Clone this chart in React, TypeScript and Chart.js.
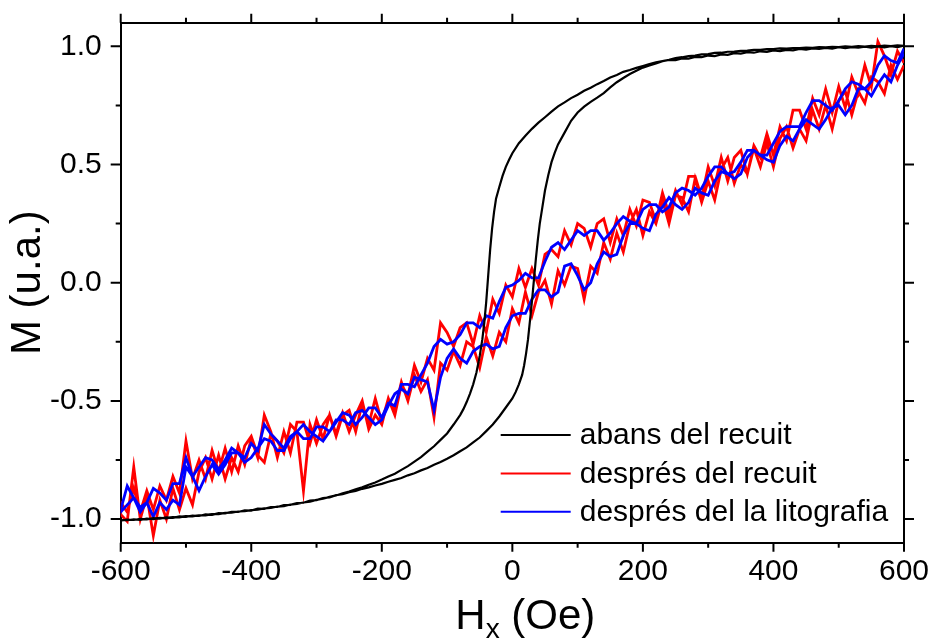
import React, { useEffect, useRef } from "react";
import { Chart, registerables } from "chart.js";

Chart.register(...registerables);

const FONT = '"Liberation Sans", Arial, Helvetica, sans-serif';

const X_TICKS = [-600, -400, -200, 0, 200, 400, 600];
const X_MINOR = [-500, -300, -100, 100, 300, 500];
const Y_TICKS = [-1.0, -0.5, 0.0, 0.5, 1.0];
const Y_MINOR = [-0.75, -0.25, 0.25, 0.75];
const X_MIN = -600;
const X_MAX = 600;
const Y_MIN = -1.1;
const Y_MAX = 1.1;

const Y_TITLE = "M (u.a.)";
const X_TITLE_MAIN = "H";
const X_TITLE_SUB = "x";
const X_TITLE_REST = " (Oe)";

const SERIES_LABELS = ["abans del recuit", "després del recuit", "després del la litografia"];
const SERIES_COLORS = ["#000000", "#ff0000", "#0000ff"];

// field grid for the two thin-film curves (Oe)
const HX = [
  -600, -590, -580, -570, -560, -550, -540, -530, -520, -510,
  -500, -490, -480, -470, -460, -450, -440, -430, -420, -410,
  -400, -390, -380, -370, -360, -350, -340, -330, -320, -310,
  -300, -290, -280, -270, -260, -250, -240, -230, -220, -210,
  -200, -190, -180, -170, -160, -150, -140, -130, -120, -110,
  -100, -90, -80, -70, -60, -50, -40, -30, -20, -10,
  0, 10, 20, 30, 40, 50, 60, 70, 80, 90,
  100, 110, 120, 130, 140, 150, 160, 170, 180, 190,
  200, 210, 220, 230, 240, 250, 260, 270, 280, 290,
  300, 310, 320, 330, 340, 350, 360, 370, 380, 390,
  400, 410, 420, 430, 440, 450, 460, 470, 480, 490,
  500, 510, 520, 530, 540, 550, 560, 570, 580, 590,
  600,
];

// "després del recuit" — increasing field branch (HX order)
const RED_UP = [
  -0.98, -1.01, -0.78, -1.0, -0.9, -1.07, -0.92, -1.0, -0.87, -0.96,
  -0.87, -0.94, -0.8, -0.74, -0.83, -0.73, -0.83, -0.74, -0.8, -0.69,
  -0.65, -0.73, -0.76, -0.64, -0.67, -0.72, -0.6, -0.63, -0.88, -0.6,
  -0.68, -0.6, -0.56, -0.64, -0.55, -0.63, -0.56, -0.5, -0.62, -0.56,
  -0.6, -0.49, -0.54, -0.42, -0.5, -0.39, -0.46, -0.41, -0.57, -0.34,
  -0.37, -0.29, -0.35, -0.25, -0.27, -0.36, -0.23, -0.31, -0.21, -0.25,
  -0.11, -0.17, -0.04, -0.14, -0.04, 0.01, -0.09, 0.05, -0.01, 0.07,
  0.06, -0.07, 0.07, 0.04, 0.17, 0.1, 0.21, 0.13, 0.25, 0.31,
  0.2, 0.3, 0.25, 0.35, 0.25, 0.37, 0.36, 0.3, 0.44, 0.34,
  0.43, 0.35, 0.48, 0.53, 0.42, 0.5, 0.46, 0.57, 0.49, 0.59,
  0.49, 0.61, 0.66, 0.57, 0.65, 0.6, 0.73, 0.65, 0.75, 0.65,
  0.77, 0.81, 0.71, 0.81, 0.76, 0.87, 0.85, 0.8, 0.92, 0.86,
  0.92,
];

// "després del recuit" — decreasing field branch (from +600 down to -600)
const RED_DOWN = [
  0.93, 0.98, 0.88, 0.96, 1.02, 0.83, 0.92, 0.8, 0.87, 0.74,
  0.83, 0.72, 0.82, 0.71, 0.78, 0.65, 0.73, 0.73, 0.6, 0.66,
  0.54, 0.63, 0.53, 0.58, 0.46, 0.56, 0.53, 0.43, 0.53, 0.41,
  0.49, 0.36, 0.45, 0.45, 0.33, 0.39, 0.29, 0.38, 0.26, 0.34,
  0.35, 0.24, 0.31, 0.2, 0.27, 0.17, 0.27, 0.25, 0.15, 0.23,
  0.25, 0.16, 0.22, 0.11, 0.14, 0.12, -0.01, 0.06, -0.02, 0.06,
  -0.06, -0.01, -0.13, -0.07, -0.21, -0.14, -0.26, -0.17, -0.19, -0.27,
  -0.21, -0.17, -0.37, -0.32, -0.42, -0.35, -0.48, -0.43, -0.56, -0.49,
  -0.59, -0.49, -0.6, -0.51, -0.63, -0.54, -0.56, -0.65, -0.56, -0.66,
  -0.58, -0.68, -0.59, -0.59, -0.72, -0.63, -0.74, -0.63, -0.56, -0.74,
  -0.66, -0.77, -0.69, -0.8, -0.7, -0.8, -0.71, -0.83, -0.75, -0.83,
  -0.67, -0.89, -0.82, -0.92, -0.86, -0.96, -0.88, -0.97, -0.87, -0.97,
  -0.93,
];

// "després del la litografia" — increasing field branch (HX order)
const BLUE_UP = [
  -0.96, -0.86, -0.91, -0.97, -0.93, -0.99, -0.93, -0.96, -0.92, -0.94,
  -0.78, -0.82, -0.88, -0.82, -0.77, -0.81, -0.77, -0.72, -0.72, -0.76,
  -0.74, -0.7, -0.66, -0.67, -0.71, -0.71, -0.66, -0.63, -0.6, -0.63,
  -0.65, -0.67, -0.63, -0.58, -0.58, -0.6, -0.55, -0.54, -0.57, -0.6,
  -0.58, -0.52, -0.47, -0.45, -0.47, -0.4, -0.41, -0.42, -0.54, -0.4,
  -0.32, -0.28, -0.32, -0.34, -0.29, -0.27, -0.26, -0.28, -0.27, -0.19,
  -0.14, -0.13, -0.13, -0.07, -0.03, -0.03, -0.06, -0.04, 0.07, 0.08,
  0.03, -0.03, 0.0, 0.08, 0.13, 0.11, 0.12, 0.2, 0.25, 0.25,
  0.23, 0.22, 0.29, 0.32, 0.36, 0.33, 0.31, 0.34, 0.4, 0.38,
  0.37, 0.43, 0.47, 0.46, 0.44, 0.46, 0.53, 0.56, 0.54, 0.52,
  0.51, 0.58, 0.62, 0.6, 0.65, 0.69, 0.67, 0.65, 0.69, 0.74,
  0.75, 0.71, 0.75, 0.82, 0.82, 0.79, 0.84, 0.88, 0.85, 0.92,
  0.97,
];

// "després del la litografia" — decreasing field branch (from +600 down to -600)
const BLUE_DOWN = [
  0.99, 0.93, 0.94, 0.96, 0.92, 0.85, 0.82, 0.84, 0.85, 0.82,
  0.77, 0.73, 0.75, 0.77, 0.77, 0.72, 0.66, 0.66, 0.66, 0.64,
  0.59, 0.54, 0.54, 0.56, 0.56, 0.51, 0.47, 0.46, 0.49, 0.49,
  0.45, 0.4, 0.37, 0.39, 0.4, 0.38, 0.32, 0.3, 0.33, 0.33,
  0.31, 0.25, 0.26, 0.28, 0.25, 0.21, 0.18, 0.22, 0.22, 0.2,
  0.22, 0.18, 0.14, 0.17, 0.15, 0.09, 0.02, 0.02, 0.04, 0.01,
  -0.01, -0.02, -0.08, -0.15, -0.14, -0.19, -0.17, -0.17, -0.22, -0.25,
  -0.26, -0.24, -0.27, -0.34, -0.39, -0.44, -0.43, -0.43, -0.52, -0.51,
  -0.57, -0.53, -0.53, -0.57, -0.6, -0.56, -0.55, -0.59, -0.63, -0.61,
  -0.61, -0.66, -0.66, -0.63, -0.65, -0.7, -0.67, -0.64, -0.6, -0.71,
  -0.68, -0.74, -0.72, -0.7, -0.75, -0.79, -0.75, -0.74, -0.78, -0.82,
  -0.74, -0.85, -0.85, -0.92, -0.89, -0.87, -0.93, -0.95, -0.91, -0.94,
  -0.97,
];

// "abans del recuit" — decreasing field branch
const BLACK_DOWN_X = [
  600, 590, 580, 570, 560, 550, 540, 530, 520, 510,
  500, 490, 480, 470, 460, 450, 440, 430, 420, 410,
  400, 390, 380, 370, 360, 350, 340, 330, 320, 310,
  300, 290, 280, 270, 260, 250, 240, 230, 220, 210,
  200, 190, 180, 170, 160, 150, 140, 130, 120, 110,
  100, 90, 80, 70, 60, 50, 40, 30, 20, 10,
  0, -5, -10, -15, -20, -25, -28, -31, -34, -37,
  -40, -43, -46, -50, -55, -60, -65, -70, -75, -80,
  -90, -100, -110, -120, -130, -140, -150, -160, -170, -180,
  -190, -200, -210, -220, -230, -240, -250, -260, -270, -280,
  -290, -300, -310, -320, -330, -340, -350, -360, -370, -380,
  -390, -400, -410, -420, -430, -440, -450, -460, -470, -480,
  -490, -500, -510, -520, -530, -540, -550, -560, -570, -580,
  -590, -600,
];
const BLACK_DOWN_Y = [
  1.003, 0.997, 1.001, 0.996, 1.0, 0.995, 0.999, 0.994, 0.997, 0.992,
  0.996, 0.99, 0.993, 0.989, 0.991, 0.986, 0.989, 0.983, 0.985, 0.98,
  0.983, 0.977, 0.979, 0.973, 0.975, 0.969, 0.971, 0.964, 0.966, 0.959,
  0.961, 0.954, 0.955, 0.948, 0.949, 0.942, 0.943, 0.938, 0.932, 0.925,
  0.917, 0.909, 0.9, 0.892, 0.879, 0.868, 0.853, 0.84, 0.825, 0.812,
  0.795, 0.781, 0.763, 0.746, 0.724, 0.7, 0.677, 0.651, 0.622, 0.59,
  0.548, 0.52, 0.49, 0.452, 0.405, 0.355, 0.3, 0.23, 0.14, 0.03,
  -0.08, -0.17, -0.24, -0.31, -0.38, -0.43, -0.47, -0.505, -0.535, -0.56,
  -0.6, -0.638, -0.665, -0.692, -0.715, -0.738, -0.757, -0.776, -0.792, -0.808,
  -0.82, -0.833, -0.845, -0.855, -0.866, -0.874, -0.884, -0.891, -0.9, -0.906,
  -0.914, -0.919, -0.926, -0.93, -0.936, -0.939, -0.945, -0.947, -0.953, -0.955,
  -0.96, -0.962, -0.967, -0.968, -0.973, -0.974, -0.979, -0.979, -0.984, -0.984,
  -0.989, -0.988, -0.993, -0.992, -0.997, -0.995, -1.0, -0.998, -1.003, -1.001,
  -1.005, -1.004,
];

// "abans del recuit" — increasing field branch
const BLACK_UP_X = [
  -600, -590, -580, -570, -560, -550, -540, -530, -520, -510,
  -500, -490, -480, -470, -460, -450, -440, -430, -420, -410,
  -400, -390, -380, -370, -360, -350, -340, -330, -320, -310,
  -300, -290, -280, -270, -260, -250, -240, -230, -220, -210,
  -200, -190, -180, -170, -160, -150, -140, -130, -120, -110,
  -100, -90, -80, -70, -60, -50, -40, -30, -20, -10,
  0, 5, 10, 15, 18, 21, 24, 27, 30, 33,
  36, 39, 42, 46, 50, 55, 60, 65, 70,
  80, 90, 100, 110, 120, 130, 140, 150, 160, 170,
  180, 190, 200, 210, 220, 230, 240, 250, 260, 270,
  280, 290, 300, 310, 320, 330, 340, 350, 360, 370,
  380, 390, 400, 410, 420, 430, 440, 450, 460, 470,
  480, 490, 500, 510, 520, 530, 540, 550, 560, 570,
  580, 590, 600,
];
const BLACK_UP_Y = [
  -1.006, -1.002, -1.004, -0.999, -1.001, -0.996, -0.998, -0.993, -0.995, -0.989,
  -0.991, -0.985, -0.987, -0.98, -0.982, -0.975, -0.976, -0.969, -0.97, -0.963,
  -0.964, -0.956, -0.957, -0.949, -0.949, -0.941, -0.94, -0.932, -0.931, -0.922,
  -0.92, -0.911, -0.908, -0.899, -0.895, -0.886, -0.881, -0.872, -0.866, -0.858,
  -0.851, -0.842, -0.834, -0.826, -0.815, -0.806, -0.794, -0.784, -0.77, -0.759,
  -0.745, -0.73, -0.713, -0.697, -0.676, -0.655, -0.628, -0.6, -0.566, -0.528,
  -0.49, -0.463, -0.43, -0.39, -0.35, -0.3, -0.24, -0.16, -0.08, 0.01,
  0.1, 0.18, 0.25, 0.32, 0.39, 0.455, 0.51, 0.55, 0.585,
  0.635, 0.685, 0.72, 0.745, 0.765, 0.783, 0.802, 0.826, 0.848, 0.866,
  0.883, 0.897, 0.91, 0.919, 0.928, 0.937, 0.943, 0.95, 0.954, 0.959,
  0.961, 0.966, 0.967, 0.972, 0.973, 0.977, 0.978, 0.981, 0.982, 0.985,
  0.985, 0.988, 0.988, 0.991, 0.99, 0.993, 0.993, 0.995, 0.994, 0.997,
  0.996, 0.998, 0.997, 1.0, 0.998, 1.001, 0.999, 1.002, 1.0, 1.003,
  1.001, 1.004, 1.002,
];

function loop(downX: number[], downY: number[], upX: number[], upY: number[]) {
  const pts: { x: number; y: number }[] = [];
  downX.forEach((x, i) => pts.push({ x, y: downY[i] }));
  upX.forEach((x, i) => pts.push({ x, y: upY[i] }));
  return pts;
}

const fmtNum = (v: number, digits: number) => {
  const s = Number(v).toFixed(digits);
  return s === "-0.0" ? "0.0" : s;
};

const decorPlugin = {
  id: "decor",
  afterDraw(chart: any) {
    const { ctx, chartArea: a, scales } = chart;
    const xs = scales.x;
    const ys = scales.y;
    ctx.save();
    ctx.strokeStyle = "#000";
    ctx.lineWidth = 2;
    ctx.lineCap = "butt";
    ctx.beginPath();
    const xTick = (v: number, len: number) => {
      const p = xs.getPixelForValue(v);
      ctx.moveTo(p, a.bottom);
      ctx.lineTo(p, a.bottom + len);
      ctx.moveTo(p, a.top);
      ctx.lineTo(p, a.top - len);
    };
    const yTick = (v: number, len: number) => {
      const p = ys.getPixelForValue(v);
      ctx.moveTo(a.left, p);
      ctx.lineTo(a.left - len, p);
      ctx.moveTo(a.right, p);
      ctx.lineTo(a.right + len, p);
    };
    X_TICKS.forEach((v) => xTick(v, 9));
    X_MINOR.forEach((v) => xTick(v, 5));
    Y_TICKS.forEach((v) => yTick(v, 10));
    Y_MINOR.forEach((v) => yTick(v, 5));
    ctx.stroke();

    ctx.fillStyle = "#000";
    // y title
    ctx.save();
    ctx.font = `42px ${FONT}`;
    ctx.translate(28, (a.top + a.bottom) / 2);
    ctx.rotate(-Math.PI / 2);
    ctx.textAlign = "center";
    ctx.textBaseline = "middle";
    ctx.fillText(Y_TITLE, 0, 0);
    ctx.restore();

    // x title with subscript
    ctx.textAlign = "left";
    ctx.textBaseline = "alphabetic";
    const mainFont = `42px ${FONT}`;
    const subFont = `28px ${FONT}`;
    ctx.font = mainFont;
    const wMain = ctx.measureText(X_TITLE_MAIN).width;
    const wRest = ctx.measureText(X_TITLE_REST).width;
    ctx.font = subFont;
    const wSub = ctx.measureText(X_TITLE_SUB).width;
    const total = wMain + wSub + wRest;
    let tx = (a.left + a.right) / 2 + 13 - total / 2;
    const by = a.bottom + 86;
    ctx.font = mainFont;
    ctx.fillText(X_TITLE_MAIN, tx, by);
    tx += wMain;
    ctx.font = subFont;
    ctx.fillText(X_TITLE_SUB, tx, by + 9);
    tx += wSub;
    ctx.font = mainFont;
    ctx.fillText(X_TITLE_REST, tx, by);

    // legend inside plot, lower right
    const ds = chart.data.datasets;
    const x0 = a.left + 380;
    const x1 = a.left + 450;
    const textX = a.left + 459;
    ctx.font = `30px ${FONT}`;
    ctx.textBaseline = "middle";
    ds.forEach((d: any, i: number) => {
      const yy = a.bottom - 31 - (ds.length - 1 - i) * 38.3;
      ctx.strokeStyle = d.borderColor;
      ctx.lineWidth = 2;
      ctx.beginPath();
      ctx.moveTo(x0, yy);
      ctx.lineTo(x1, yy);
      ctx.stroke();
      ctx.fillStyle = "#000";
      ctx.fillText(d.label, textX, yy + 1);
    });
    ctx.restore();
  },
};

const zeroPadX = (s: any, h: number) => {
  s.height = h;
  s.paddingLeft = 0;
  s.paddingRight = 0;
  s.paddingTop = 0;
  s.paddingBottom = 0;
};
const zeroPadY = (s: any, w: number) => {
  s.width = w;
  s.paddingLeft = 0;
  s.paddingRight = 0;
  s.paddingTop = 0;
  s.paddingBottom = 0;
};

export default function App() {
  const canvasRef = useRef<HTMLCanvasElement | null>(null);

  useEffect(() => {
    if (!canvasRef.current) return;
    const hxDown = HX.slice().reverse();
    const chart = new Chart(canvasRef.current, {
      type: "scatter",
      data: {
        datasets: [
          {
            label: SERIES_LABELS[0],
            data: loop(BLACK_DOWN_X, BLACK_DOWN_Y, BLACK_UP_X, BLACK_UP_Y),
            borderColor: SERIES_COLORS[0],
            backgroundColor: SERIES_COLORS[0],
            borderWidth: 2.2,
            showLine: true,
            pointRadius: 0,
            order: 1,
          },
          {
            label: SERIES_LABELS[1],
            data: loop(hxDown, RED_DOWN, HX, RED_UP),
            borderColor: SERIES_COLORS[1],
            backgroundColor: SERIES_COLORS[1],
            borderWidth: 2.8,
            showLine: true,
            pointRadius: 0,
            order: 3,
          },
          {
            label: SERIES_LABELS[2],
            data: loop(hxDown, BLUE_DOWN, HX, BLUE_UP),
            borderColor: SERIES_COLORS[2],
            backgroundColor: SERIES_COLORS[2],
            borderWidth: 2.8,
            showLine: true,
            pointRadius: 0,
            order: 2,
          },
        ],
      },
      options: {
        responsive: false,
        animation: false,
        devicePixelRatio: 1,
        events: [],
        layout: { padding: 0 },
        plugins: {
          legend: { display: false },
          tooltip: { enabled: false },
          title: { display: false },
        },
        scales: {
          x: {
            type: "linear",
            position: "bottom",
            min: X_MIN,
            max: X_MAX,
            afterBuildTicks: (s: any) => {
              s.ticks = X_TICKS.map((v) => ({ value: v }));
            },
            afterFit: (s: any) => zeroPadX(s, 95.3),
            ticks: {
              color: "#000",
              font: { family: FONT, size: 30 },
              padding: 11,
              autoSkip: false,
              maxRotation: 0,
              minRotation: 0,
              callback: (v: any) => String(v),
            },
            grid: { display: false, drawTicks: false },
            border: { display: true, color: "#000", width: 2 },
          },
          x2: {
            type: "linear",
            position: "top",
            min: X_MIN,
            max: X_MAX,
            afterFit: (s: any) => zeroPadX(s, 22.7),
            ticks: { display: false },
            grid: { display: false, drawTicks: false },
            border: { display: true, color: "#000", width: 2 },
          },
          y: {
            type: "linear",
            position: "left",
            min: Y_MIN,
            max: Y_MAX,
            afterBuildTicks: (s: any) => {
              s.ticks = Y_TICKS.map((v) => ({ value: v }));
            },
            afterFit: (s: any) => zeroPadY(s, 120.7),
            ticks: {
              color: "#000",
              font: { family: FONT, size: 30 },
              padding: 19,
              autoSkip: false,
              callback: (v: any) => fmtNum(v, 1),
            },
            grid: { display: false, drawTicks: false },
            border: { display: true, color: "#000", width: 2 },
          },
          y2: {
            type: "linear",
            position: "right",
            min: Y_MIN,
            max: Y_MAX,
            afterFit: (s: any) => zeroPadY(s, 29),
            ticks: { display: false },
            grid: { display: false, drawTicks: false },
            border: { display: true, color: "#000", width: 2 },
          },
        },
      },
      plugins: [decorPlugin],
    });
    return () => chart.destroy();
  }, []);

  return (
    <div style={{ position: "fixed", left: 0, top: 0, width: 933, height: 638, background: "#fff" }}>
      <canvas ref={canvasRef} width={933} height={638} style={{ display: "block", width: 933, height: 638 }} />
    </div>
  );
}
